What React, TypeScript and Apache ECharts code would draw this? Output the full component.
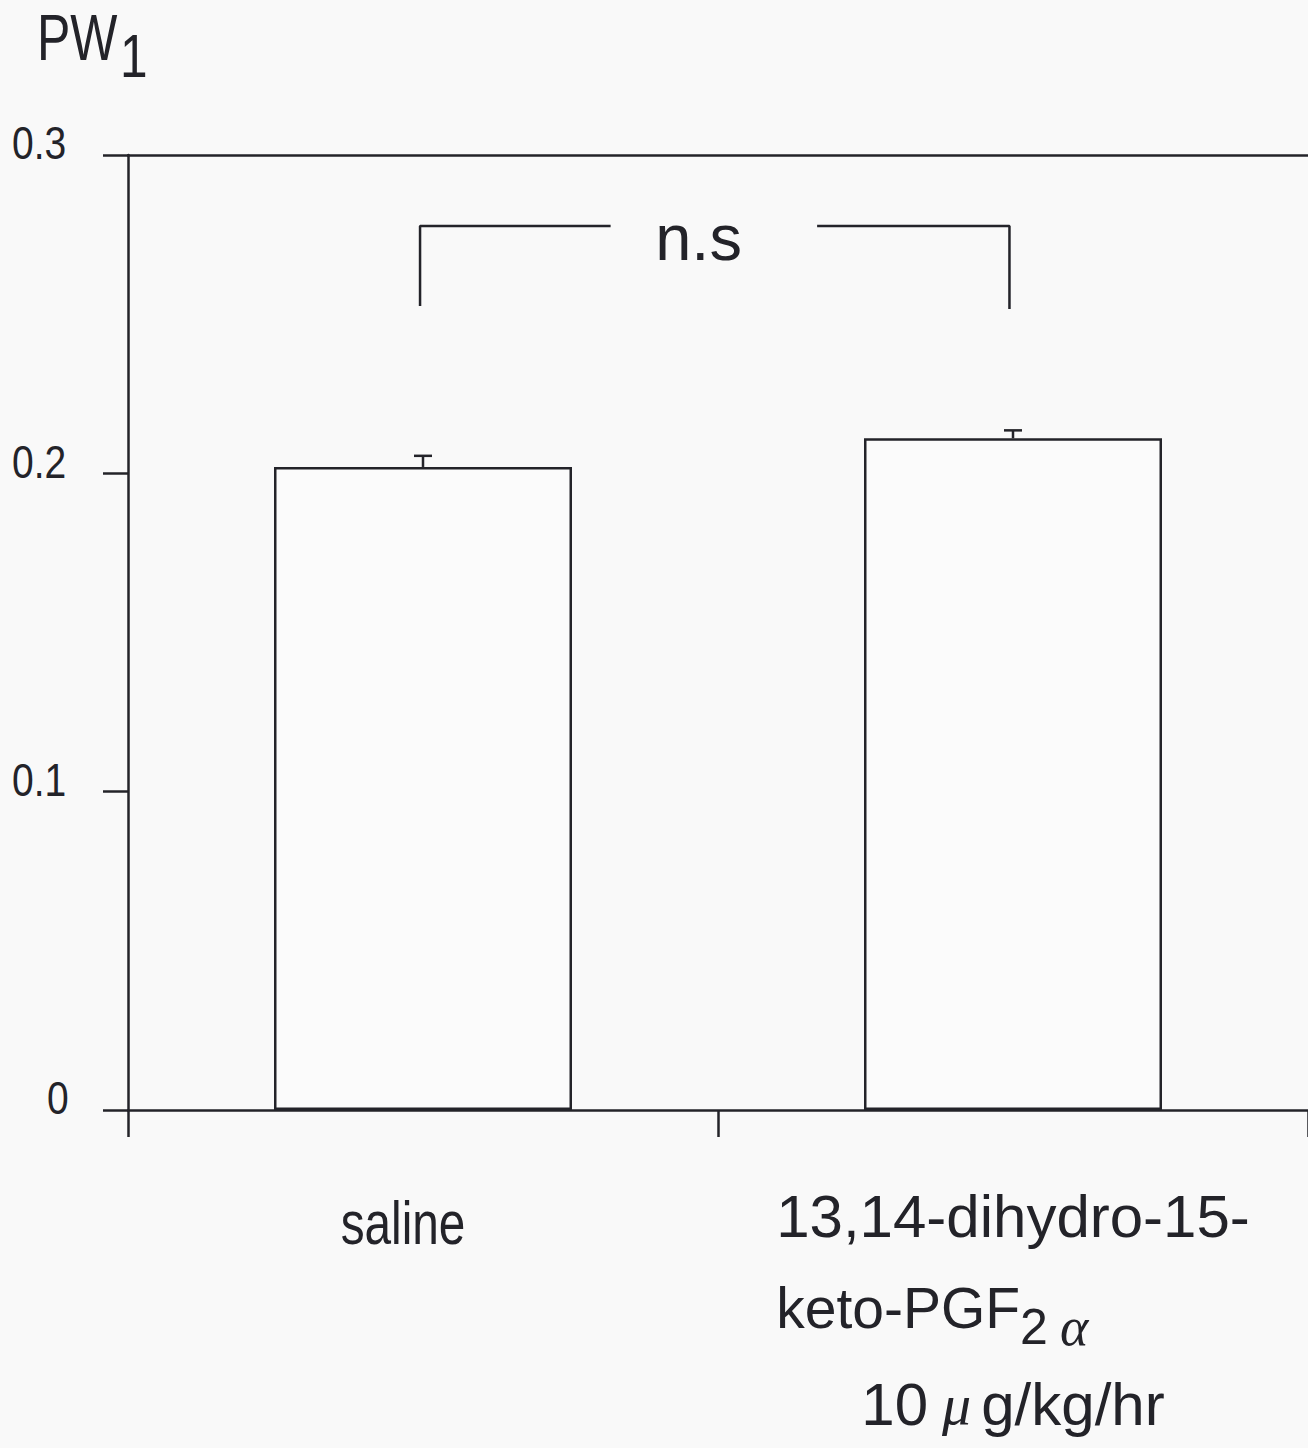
import React, { useEffect, useRef } from 'react';
import * as echarts from 'echarts';

// Relative airway wall thickness (PW1), mean ± SE
const categories = ['saline', '13,14-dihydro-15-keto-PGF2α 10μg/kg/hr'];
const means = [0.202, 0.211];
const sems = [0.0035, 0.0025];

const yMin = 0;
const yMax = 0.3;
const yStep = 0.1;
const yTicks = [0, 0.1, 0.2, 0.3];
const yTickLabels = ['0', '0.1', '0.2', '0.3'];

// Significance bracket, in [band position, PW1] units (band centers at 0 and 1)
const bracketLeft = [[-0.005, 0.2526], [-0.005, 0.2777], [0.318, 0.2777]];
const bracketRight = [[0.668, 0.2777], [0.994, 0.2777], [0.994, 0.2516]];
const sigText = 'n.s';
const sigPoint = [0.467, 0.2777];

const INK = '#232329';
const BG = '#f9f9f9';
const SANS = '"Liberation Sans", Arial, sans-serif';
const GREEK = '"Liberation Serif", "DejaVu Serif", serif';

export default function App() {
  const ref = useRef<HTMLDivElement>(null);

  useEffect(() => {
    document.body.style.margin = '0';
    document.body.style.background = BG;
    if (!ref.current) return;
    const chart = echarts.init(ref.current, null, { renderer: 'svg' });

    const option: any = {
      animation: false,
      backgroundColor: BG,
      grid: { left: 128, top: 155, width: 1185, height: 955 },
      xAxis: [
        {
          type: 'category',
          data: categories,
          position: 'bottom',
          axisLine: { onZero: false, lineStyle: { color: INK, width: 2.5 } },
          axisTick: { show: true, inside: false, length: 27, alignWithLabel: false, lineStyle: { color: INK, width: 2.5 } },
          splitLine: { show: false },
          axisLabel: {
            margin: 60,
            interval: 0,
            color: INK,
            formatter: (_v: string, i: number) =>
              i === 0 ? '' : '{l1|13,14-dihydro-15-}\n{k|keto-PGF}{sub|2}{subg|α}\n{l3|10}{mu|μ}{l3|g/kg/hr}',
            rich: {
              l1: { fontFamily: SANS, fontSize: 60, lineHeight: 92, align: 'left', color: INK },
              k: { fontFamily: SANS, fontSize: 57, lineHeight: 92, align: 'left', color: INK },
              sub: { fontFamily: SANS, fontSize: 50, align: 'left', padding: [38, 0, 0, 0], color: INK },
              subg: { fontFamily: GREEK, fontStyle: 'italic', fontSize: 54, align: 'left', padding: [38, 0, 0, 12], color: INK },
              l3: { fontFamily: SANS, fontSize: 60, lineHeight: 100, align: 'center', color: INK },
              mu: { fontFamily: GREEK, fontStyle: 'italic', fontSize: 58, lineHeight: 100, align: 'center', padding: [0, 10, 0, 14], color: INK },
            },
          },
        },
        {
          type: 'value',
          min: -0.5,
          max: 1.5,
          position: 'top',
          axisLine: { show: true, onZero: false, lineStyle: { color: INK, width: 2.5 } },
          axisTick: { show: false },
          axisLabel: { show: false },
          splitLine: { show: false },
        },
      ],
      yAxis: {
        type: 'value',
        min: yMin,
        max: yMax,
        interval: yStep,
        axisLine: { show: true, onZero: false, lineStyle: { color: INK, width: 2.5 } },
        axisTick: { show: true, inside: false, length: 25, lineStyle: { color: INK, width: 2.5 } },
        splitLine: { show: false },
        axisLabel: { show: false },
      },
      series: [
        {
          type: 'bar',
          data: means,
          barWidth: 298,
          xAxisIndex: 0,
          itemStyle: { color: '#fbfbfb', borderColor: INK, borderWidth: 2.5 },
        },
        {
          type: 'custom',
          xAxisIndex: 0,
          data: means.map((m, i) => [i, m, sems[i]]),
          encode: { x: 0, y: 1 },
          z: 5,
          renderItem: (_p: any, api: any) => {
            const base = api.coord([api.value(0), api.value(1)]);
            const top = api.coord([api.value(0), api.value(1) + api.value(2)]);
            const half = 9;
            return {
              type: 'group',
              children: [
                { type: 'line', shape: { x1: base[0], y1: base[1], x2: top[0], y2: top[1] }, style: { stroke: INK, lineWidth: 2.5 } },
                { type: 'line', shape: { x1: top[0] - half, y1: top[1], x2: top[0] + half, y2: top[1] }, style: { stroke: INK, lineWidth: 2.5 } },
              ],
            };
          },
        },
        {
          type: 'line',
          xAxisIndex: 1,
          data: bracketLeft,
          symbol: 'none',
          lineStyle: { color: INK, width: 2.5 },
        },
        {
          type: 'line',
          xAxisIndex: 1,
          data: bracketRight,
          symbol: 'none',
          lineStyle: { color: INK, width: 2.5 },
        },
        {
          type: 'scatter',
          xAxisIndex: 1,
          data: [sigPoint],
          symbolSize: 0,
          itemStyle: { opacity: 1 },
          label: {
            show: true,
            position: 'bottom',
            distance: 0,
            offset: [0, -21],
            formatter: sigText,
            fontFamily: SANS,
            fontSize: 65,
            color: INK,
          },
        },
      ],
    };

    chart.setOption(option);

    // Narrow-set texts placed from the axes' own scales
    const yPix = yTicks.map((v) => chart.convertToPixel({ yAxisIndex: 0 }, v) as number);
    const salineX = chart.convertToPixel({ xAxisIndex: 0 }, categories[0]) as number;

    const graphics: any[] = yTicks.map((v, i) => ({
      type: 'text',
      x: v === 0 ? 47 : 12,
      y: yPix[i] - 12,
      scaleX: 0.83,
      style: { text: yTickLabels[i], fontFamily: SANS, fontSize: 47, fill: INK, align: 'left', verticalAlign: 'middle' },
    }));
    graphics.push({
      type: 'text',
      x: salineX - 20,
      y: 1223,
      scaleX: 0.77,
      style: { text: categories[0], fontFamily: SANS, fontSize: 62, fill: INK, align: 'center', verticalAlign: 'middle' },
    });
    graphics.push({
      type: 'text',
      x: 37,
      y: 38,
      scaleX: 0.78,
      style: { text: 'PW', fontFamily: SANS, fontSize: 64, lineHeight: 56, fill: INK, align: 'left', verticalAlign: 'middle' },
    });
    graphics.push({
      type: 'text',
      x: 120,
      y: 55,
      scaleX: 0.8,
      style: { text: '1', fontFamily: SANS, fontSize: 62, lineHeight: 56, fill: INK, align: 'left', verticalAlign: 'middle' },
    });
    chart.setOption({ graphic: graphics });

    return () => chart.dispose();
  }, []);

  return <div ref={ref} style={{ width: 1308, height: 1448 }} />;
}
